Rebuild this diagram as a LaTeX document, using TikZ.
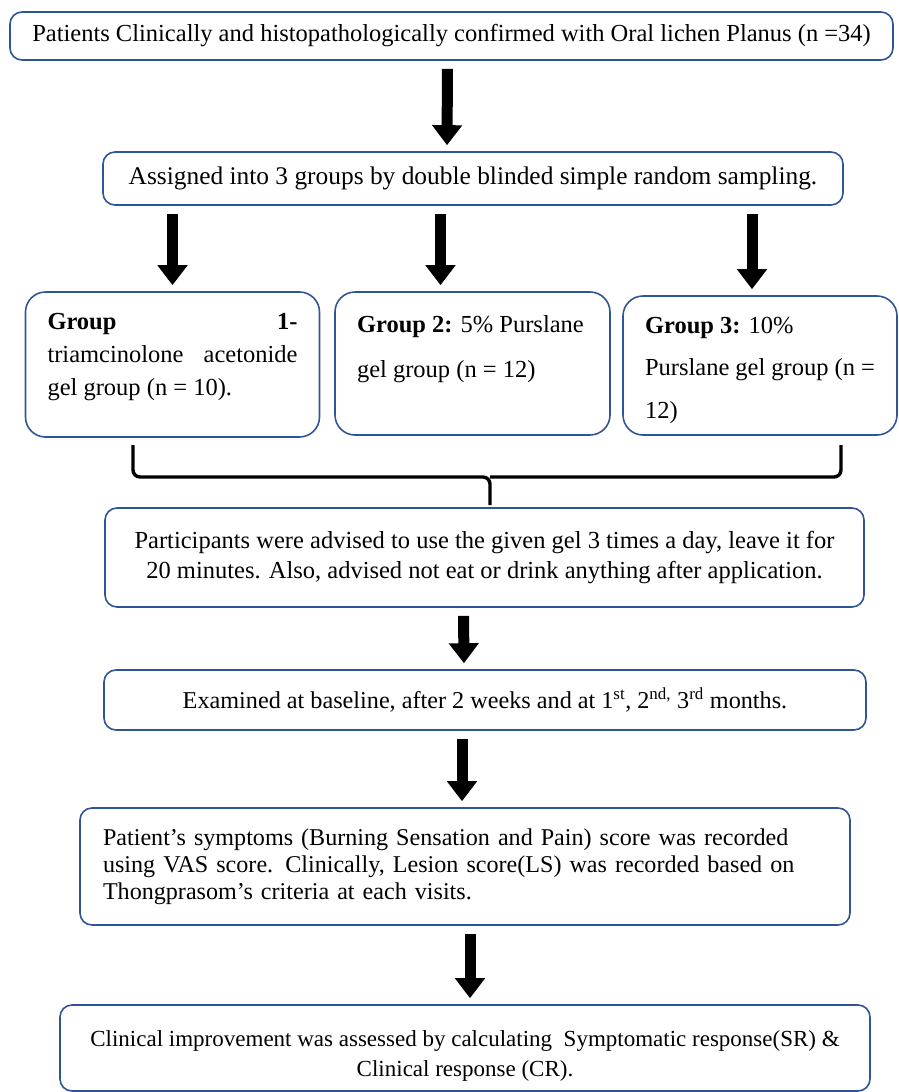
\documentclass[tikz,border=0pt]{standalone}
\usepackage{fontspec}
\setmainfont{Liberation Serif}
\usetikzlibrary{arrows.meta,calc}
\definecolor{boxblue}{HTML}{2F5597}
\tikzset{
  box/.style={draw=boxblue,line width=1.6pt,rounded corners=12pt,align=center,
              font=\fontsize{24.5}{30}\selectfont,inner sep=0pt},
  grp/.style={box,rounded corners=20pt,inner xsep=22pt,inner ysep=12pt},
  fat/.style={-{Triangle[width=29pt,length=20pt]},line width=11pt,black,
              shorten <=8pt,shorten >=6pt},
  brace/.style={line width=3.4pt,rounded corners=7pt},
}
\begin{document}
\begin{tikzpicture}[x=1pt,y=-1pt]
  \useasboundingbox (0,0) rectangle (899,1092);
  \node[box,minimum width=883,minimum height=48] (pat) at (451.5,36)
     {Patients Clinically and histopathologically confirmed with Oral lichen Planus (n =34)};
  \node[box,minimum width=740,minimum height=53,font=\fontsize{25.4}{30}\selectfont]
     (assign) at (473,178.5)
     {Assigned into 3 groups by double blinded simple random sampling.};
  % the three groups
  \node[grp] (g1) at (172.5,364.5)
     {\parbox[t][121pt][t]{250pt}{\fontsize{24.5}{33}\selectfont\vspace*{9pt}
       \textbf{Group}\hfill\textbf{1-}\\ triamcinolone\hfill acetonide\\ gel group (n = 10).}};
  \node[grp] (g2) at (472.5,363.5)
     {\parbox[t][119pt][t]{231pt}{\fontsize{24.5}{45}\selectfont\vspace*{11pt}
       \textbf{Group 2:} 5\% Purslane\\ gel group (n = 12)}};
  \node[grp] (g3) at (760,365.5)
     {\parbox[t][115pt][t]{230pt}{\fontsize{24.5}{42.5}\selectfont\vspace*{9pt}
       \textbf{Group 3:} 10\%\\ Purslane gel group (n =\\ 12)}};
  \node[box,minimum width=759,minimum height=99] (part) at (484.5,557.5)
     {Participants were advised to use the given gel 3 times a day, leave it for\\
      20 minutes. Also, advised not eat or drink anything after application.};
  \node[box,minimum width=762,minimum height=60,font=\fontsize{24.2}{30}\selectfont]
     (exam) at (485,700)
     {Examined at baseline, after 2 weeks and at 1\textsuperscript{st}, 2\textsuperscript{nd,} 3\textsuperscript{rd} months.};
  \node[box,minimum height=117,align=left,text width=724,inner xsep=23pt,
        font=\fontsize{24.1}{27}\selectfont] (score) at (465,866.5)
     {Patient's symptoms (Burning Sensation and Pain) score was recorded\\
      using VAS score. Clinically, Lesion score(LS) was recorded based on\\
      Thongprasom's criteria at each visits.};
  \node[box,minimum width=810,minimum height=86,font=\fontsize{23}{30}\selectfont]
     (impr) at (465,1048)
     {\rule{0pt}{32pt}Clinical improvement was assessed by calculating\ \ Symptomatic response(SR) \&\\
      Clinical response (CR).};
  % arrows
  \draw[fat] ($(pat.south)+(-4,0)$) -- ($(assign.north)+(-26,0)$);
  \draw[fat] (assign.south -| g1.north) -- (g1.north);
  \draw[fat] ($(assign.south -| g2.north)+(-32,0)$) -- ($(g2.north)+(-32,0)$);
  \draw[fat] ($(assign.south -| g3.north)+(-8,0)$) -- ($(g3.north)+(-8,0)$);
  \draw[fat] ($(part.south)+(-21,0)$) -- ($(exam.north)+(-21,0)$);
  \draw[fat] ($(exam.south)+(-23,0)$) -- ($(score.north)+(-3,0)$);
  \draw[fat] ($(score.south)+(5,0)$) -- ($(impr.north)+(5,0)$);
  % brace joining the groups
  \coordinate (brtip) at (490,505);
  \draw[brace] (133,445) |- (490,477) -- (brtip);
  \draw[brace] (841,445) |- (490,477);
\end{tikzpicture}
\end{document}
